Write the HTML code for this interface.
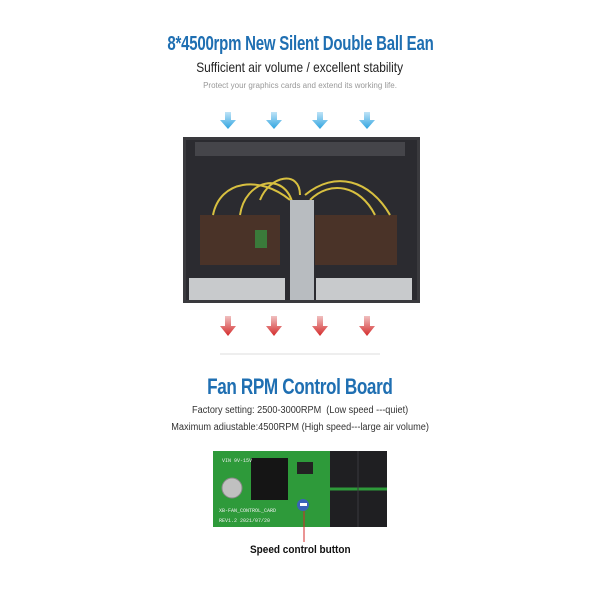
<!DOCTYPE html>
<html><head><meta charset="utf-8"><style>
body{margin:0;width:600px;height:600px;background:#fff;position:relative;overflow:hidden;font-family:"Liberation Sans",sans-serif}
.t{position:absolute;left:0;width:600px;text-align:center;white-space:nowrap}
.t span{display:inline-block}
</style></head><body>
<div class="t" style="top:33px;font-size:20px;font-weight:bold;color:#1f6fb2;letter-spacing:-0.3px"><span style="transform:scaleX(0.75)">8*4500rpm New Silent Double Ball Ean</span></div>
<div class="t" style="top:59px;font-size:14px;color:#222"><span style="transform:scaleX(0.85)">Sufficient air volume / excellent stability</span></div>
<div class="t" style="top:81px;font-size:8px;color:#999">Protect your graphics cards and extend its working life.</div>

<svg width="600" height="600" style="position:absolute;left:0;top:0">
<defs>
<linearGradient id="bl" x1="0" y1="0" x2="0" y2="1"><stop offset="0" stop-color="#bfe3f7"/><stop offset="1" stop-color="#2fa4e0"/></linearGradient>
<linearGradient id="rd" x1="0" y1="0" x2="0" y2="1"><stop offset="0" stop-color="#f0c0c0"/><stop offset="1" stop-color="#d42a2a"/></linearGradient>
</defs>
<g fill="url(#bl)">
<path d="M225,112h6v8h5l-8,9l-8,-9h5z"/>
<path d="M271,112h6v8h5l-8,9l-8,-9h5z"/>
<path d="M317,112h6v8h5l-8,9l-8,-9h5z"/>
<path d="M364,112h6v8h5l-8,9l-8,-9h5z"/>
</g>
<rect x="183" y="137" width="237" height="166" fill="#3a3a3e"/>
<rect x="186" y="140" width="231" height="160" fill="#2b2b30"/>
<rect x="195" y="142" width="210" height="14" fill="#45454a"/>
<rect x="200" y="215" width="80" height="50" fill="#4a3328"/>
<rect x="315" y="215" width="82" height="50" fill="#4a3328"/>
<rect x="255" y="230" width="12" height="18" fill="#3a7a3a"/>
<g stroke="#d8c040" stroke-width="2" fill="none">
<path d="M213,215 C220,180 260,175 290,200"/><path d="M240,215 C245,180 285,170 293,205"/>
<path d="M310,200 C330,180 360,185 375,215"/><path d="M305,195 C335,170 370,180 390,215"/>
<path d="M260,200 C270,175 300,170 300,195"/>
</g>
<rect x="290" y="200" width="24" height="100" fill="#b8bcc0"/>
<rect x="189" y="278" width="96" height="22" fill="#c8cacc"/>
<rect x="316" y="278" width="96" height="22" fill="#c8cacc"/>
<g fill="url(#rd)">
<path d="M225,316h6v10h5l-8,10l-8,-10h5z"/>
<path d="M271,316h6v10h5l-8,10l-8,-10h5z"/>
<path d="M317,316h6v10h5l-8,10l-8,-10h5z"/>
<path d="M364,316h6v10h5l-8,10l-8,-10h5z"/>
</g>
<line x1="220" y1="354" x2="380" y2="354" stroke="#ddd" stroke-width="1"/>

<rect x="213" y="451" width="130" height="76" fill="#2e9a3a"/>
<rect x="330" y="451" width="57" height="76" fill="#1f1f22"/>
<line x1="330" y1="489" x2="387" y2="489" stroke="#2e9a3a" stroke-width="3"/>
<line x1="358" y1="451" x2="358" y2="527" stroke="#3a3a3e" stroke-width="1"/>
<rect x="251" y="458" width="37" height="42" fill="#151515"/>
<circle cx="232" cy="488" r="10" fill="#c0c0c0" stroke="#888"/>
<rect x="297" y="462" width="16" height="12" fill="#222"/>
<circle cx="303" cy="505" r="6" fill="#3a63b8"/>
<rect x="300" y="503" width="7" height="3" fill="#fff"/>
<text x="219" y="512" font-size="5" fill="#eee" font-family="Liberation Mono">XB-FAN_CONTROL_CARD</text>
<text x="219" y="522" font-size="5" fill="#eee" font-family="Liberation Mono">REV1.2  2021/07/20</text>
<text x="222" y="462" font-size="5" fill="#eee" font-family="Liberation Mono">VIN 9V-15V</text>
<line x1="304" y1="511" x2="304" y2="542" stroke="#d42a2a" stroke-width="1"/>
</svg>

<div class="t" style="top:374px;font-size:22px;font-weight:bold;color:#1f6fb2;letter-spacing:-0.5px"><span style="transform:scaleX(0.78)">Fan RPM Control Board</span></div>
<div class="t" style="top:405px;font-size:10px;color:#333"><span style="transform:scaleX(0.915)">Factory setting: 2500-3000RPM&nbsp; (Low speed ---quiet)</span></div>
<div class="t" style="top:422px;font-size:10px;color:#333"><span style="transform:scaleX(0.92)">Maximum adiustable:4500RPM (High speed---large air volume)</span></div>
<div class="t" style="top:544px;font-size:11px;font-weight:bold;color:#111"><span style="transform:scaleX(0.91)">Speed control button</span></div>
</body></html>
